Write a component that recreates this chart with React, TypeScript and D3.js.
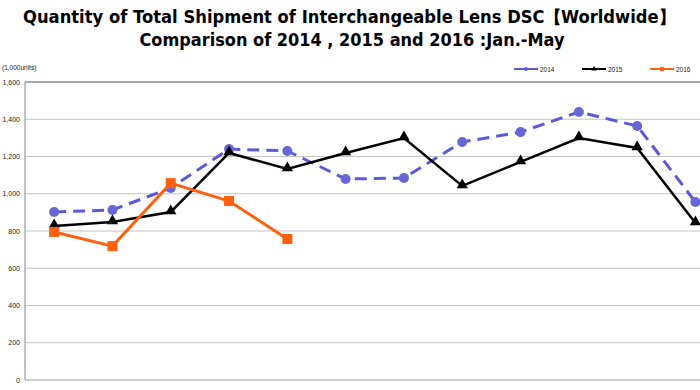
import React, { useEffect, useRef } from "react";
import * as d3 from "d3";

// values (1,000 units)
const months = ["Jan", "Feb", "Mar", "Apr", "May", "Jun", "Jul", "Aug", "Sep", "Oct", "Nov", "Dec"];
const y2014 = [902, 913, 1031, 1240, 1230, 1079, 1085, 1278, 1331, 1439, 1364, 956];
const y2015 = [827, 848, 902, 1219, 1133, 1219, 1299, 1042, 1171, 1299, 1246, 843];
const y2016 = [795, 719, 1057, 961, 757];
const yTicks = [0, 200, 400, 600, 800, 1000, 1200, 1400, 1600];

export default function App() {
  const ref = useRef<SVGSVGElement | null>(null);

  useEffect(() => {
    const svg = d3.select(ref.current);
    svg.selectAll("*").remove();

    const left = 25,
      top = 82,
      bottom = 380,
      step = 58.3;

    // chart is cropped on the right, bands keep going past the edge
    const x = d3
      .scaleBand()
      .domain(months)
      .range([left, left + step * months.length]);
    const y = d3.scaleLinear().domain([0, 1600]).range([bottom, top]);
    const cx = (m: string) => (x(m) as number) + x.bandwidth() / 2;

    svg
      .append("rect")
      .attr("width", 700)
      .attr("height", 390)
      .attr("fill", "#fff");

    // title
    const title = svg
      .append("g")
      .attr("font-family", "DejaVu Sans")
      .attr("font-weight", "bold")
      .attr("font-size", 17)
      .attr("text-anchor", "middle")
      .attr("fill", "#000");
    title
      .append("text")
      .attr("x", 349)
      .attr("y", 23)
      .attr("textLength", 652)
      .attr("lengthAdjust", "spacingAndGlyphs")
      .text("Quantity of Total Shipment of Interchangeable Lens DSC【Worldwide】");
    title
      .append("text")
      .attr("x", 352)
      .attr("y", 46)
      .attr("textLength", 425)
      .attr("lengthAdjust", "spacingAndGlyphs")
      .text("Comparison of 2014 , 2015 and 2016 :Jan.-May");

    // grid
    svg
      .append("g")
      .selectAll("line")
      .data(yTicks.filter((d) => d > 0))
      .enter()
      .append("line")
      .attr("x1", left)
      .attr("x2", 700)
      .attr("y1", (d) => y(d))
      .attr("y2", (d) => y(d))
      .attr("stroke", (d) => (d === 1600 ? "#a8a8a8" : "#c4c4c4"))
      .attr("stroke-width", (d) => (d === 1600 ? 2 : 1.2));

    // axes
    svg
      .append("line")
      .attr("x1", left)
      .attr("x2", left)
      .attr("y1", top)
      .attr("y2", bottom)
      .attr("stroke", "#999")
      .attr("stroke-width", 1.2);
    svg
      .append("line")
      .attr("x1", left)
      .attr("x2", 700)
      .attr("y1", bottom)
      .attr("y2", bottom)
      .attr("stroke", "#999")
      .attr("stroke-width", 1.2);

    svg
      .append("g")
      .attr("font-family", "Liberation Sans, Arial")
      .attr("font-size", 7)
      .attr("fill", "#222")
      .attr("text-anchor", "end")
      .selectAll("text")
      .data(yTicks)
      .enter()
      .append("text")
      .attr("x", 20)
      .attr("y", (d) => y(d) + 2.5)
      .text((d) => d3.format(",")(d));

    svg
      .append("text")
      .attr("x", 2)
      .attr("y", 70)
      .attr("font-family", "Liberation Sans, Arial")
      .attr("font-size", 6.5)
      .attr("fill", "#222")
      .text("(1,000units)");

    const line = d3
      .line<number>()
      .x((_, i) => cx(months[i]))
      .y((d) => y(d));

    // 2014
    svg
      .append("path")
      .datum(y2014)
      .attr("d", line)
      .attr("fill", "none")
      .attr("stroke", "#5a5ad8")
      .attr("stroke-width", 3)
      .attr("stroke-dasharray", "12,7");
    svg
      .append("g")
      .selectAll("circle")
      .data(y2014)
      .enter()
      .append("circle")
      .attr("cx", (_, i) => cx(months[i]))
      .attr("cy", (d) => y(d))
      .attr("r", 5)
      .attr("fill", "#6666d6");

    // 2015
    svg
      .append("path")
      .datum(y2015)
      .attr("d", line)
      .attr("fill", "none")
      .attr("stroke", "#000")
      .attr("stroke-width", 2.5);
    const tri = d3.symbol().type(d3.symbolTriangle).size(55);
    svg
      .append("g")
      .selectAll("path")
      .data(y2015)
      .enter()
      .append("path")
      .attr("d", tri)
      .attr("transform", (d, i) => `translate(${cx(months[i])},${y(d) - 1})`)
      .attr("fill", "#000");

    // 2016
    svg
      .append("path")
      .datum(y2016)
      .attr("d", line)
      .attr("fill", "none")
      .attr("stroke", "#ff6010")
      .attr("stroke-width", 3);
    svg
      .append("g")
      .selectAll("rect")
      .data(y2016)
      .enter()
      .append("rect")
      .attr("x", (_, i) => cx(months[i]) - 5)
      .attr("y", (d) => y(d) - 5)
      .attr("width", 10)
      .attr("height", 10)
      .attr("fill", "#ff6010");

    // legend
    const legend = [
      { name: "2014", color: "#5a5ad8", x: 514 },
      { name: "2015", color: "#000", x: 582 },
      { name: "2016", color: "#ff6010", x: 650 },
    ];
    const lg = svg.append("g").selectAll("g").data(legend).enter().append("g");
    lg.append("line")
      .attr("x1", (d) => d.x)
      .attr("x2", (d) => d.x + 24)
      .attr("y1", 69)
      .attr("y2", 69)
      .attr("stroke", (d) => d.color)
      .attr("stroke-width", 2);
    lg.filter((d) => d.name === "2014")
      .append("circle")
      .attr("cx", (d) => d.x + 12)
      .attr("cy", 69)
      .attr("r", 2)
      .attr("fill", (d) => d.color);
    lg.filter((d) => d.name === "2015")
      .append("path")
      .attr("d", d3.symbol().type(d3.symbolTriangle).size(12))
      .attr("transform", (d) => `translate(${d.x + 12},69)`)
      .attr("fill", "#000");
    lg.filter((d) => d.name === "2016")
      .append("rect")
      .attr("x", (d) => d.x + 10)
      .attr("y", 67)
      .attr("width", 4)
      .attr("height", 4)
      .attr("fill", (d) => d.color);
    lg.append("text")
      .attr("x", (d) => d.x + 26)
      .attr("y", 71.5)
      .attr("font-family", "Liberation Sans, Arial")
      .attr("font-size", 6.5)
      .attr("fill", "#222")
      .text((d) => d.name);
  }, []);

  return (
    <div style={{ position: "fixed", left: 0, top: 0 }}>
      <svg ref={ref} width={700} height={390} style={{ display: "block" }} />
    </div>
  );
}
